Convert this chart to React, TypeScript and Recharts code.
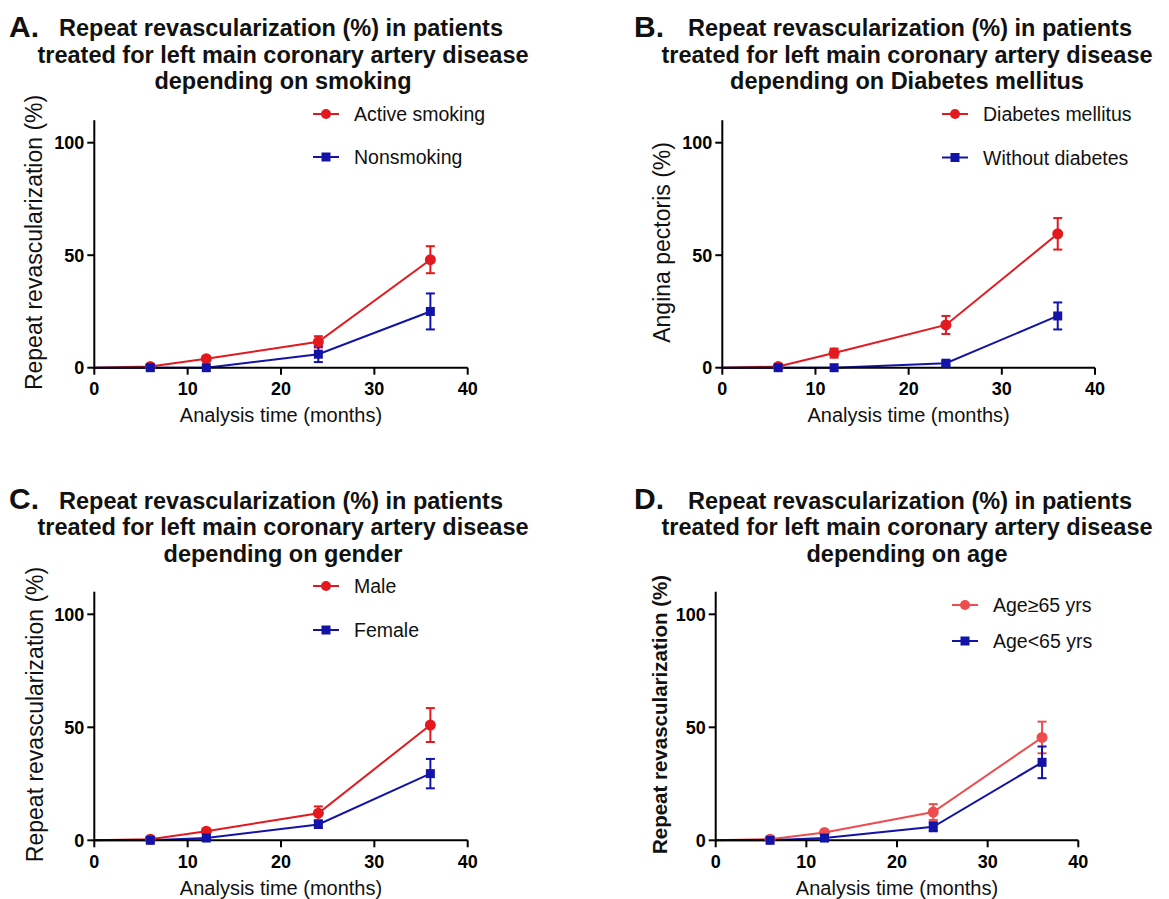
import React from "react";
import { LineChart, Line, XAxis, YAxis, ErrorBar, Legend, Label } from "recharts";

// months of follow-up (x values shared by every panel)
const months = [0, 6, 12, 24, 36];

// A. smoking
const smokingActive = [0, 0.5, 4, 11.5, 48];
const smokingActiveErr = [0, 0.5, 1, 2.5, 6];
const smokingNon = [0, 0, 0, 6, 25];
const smokingNonErr = [0, 0, 0, 3.5, 8];

// B. diabetes
const diabetesYes = [0, 0.5, 6.5, 19, 59.5];
const diabetesYesErr = [0, 0.5, 2, 4, 7];
const diabetesNo = [0, 0, 0, 2, 23];
const diabetesNoErr = [0, 0, 0, 1, 6];

// C. gender
const male = [0, 0.5, 4, 12, 51];
const maleErr = [0, 0.5, 1, 3, 7.5];
const female = [0, 0, 1, 7, 29.5];
const femaleErr = [0, 0, 0.5, 1.5, 6.5];

// D. age
const ageOld = [0, 0.5, 3.5, 12.5, 45.5];
const ageOldErr = [0, 0.5, 1, 3.5, 7];
const ageYoung = [0, 0, 1, 6, 34.5];
const ageYoungErr = [0, 0, 0.5, 2, 7];

const xTicks = [0, 10, 20, 30, 40];
const yTicks = [0, 50, 100];

const titleLines = [
  "Repeat revascularization (%) in patients",
  "treated for left main coronary artery disease",
];

const RED = "#e3191f";
const RED_LIGHT = "#ee4c4e";
const BLUE = "#1313a8";
const FONT = "'Liberation Sans', Arial, Helvetica, sans-serif";

const buildRows = (a: number[], aErr: number[], b: number[], bErr: number[]) =>
  months.map((m, i) => ({ month: m, a: a[i], aErr: aErr[i], b: b[i], bErr: bErr[i] }));

const makeDot = (shape: string, color: string) => (props: any) => {
  const { cx, cy, payload, index } = props;
  if (cx == null || payload.month === 0) return <g key={`d${index}`} />;
  if (shape === "circle") return <circle key={`d${index}`} cx={cx} cy={cy} r={5.5} fill={color} />;
  return <rect key={`d${index}`} x={cx - 4.5} y={cy - 4.5} width={9} height={9} fill={color} />;
};

const LegendBox = ({ payload, gap }: any) => {
  // keep series order (a, then b) instead of alphabetical
  const items = [...(payload || [])].sort((u: any, v: any) => String(u.dataKey).localeCompare(String(v.dataKey)));
  return (
    <svg width={230} height={gap + 24} style={{ overflow: "visible" }}>
      {items.map((p: any, i: number) => {
        const y = 10 + i * gap;
        return (
          <g key={p.value}>
            <line x1={0} x2={26} y1={y} y2={y} stroke={p.color} strokeWidth={2} />
            {p.type === "circle" ? (
              <circle cx={13} cy={y} r={5} fill={p.color} />
            ) : (
              <rect x={8.5} y={y - 4.5} width={9} height={9} fill={p.color} />
            )}
            <text x={41} y={y} dominantBaseline="central" fontSize={19.5} fontFamily={FONT} fill="#111">
              {p.value}
            </text>
          </g>
        );
      })}
    </svg>
  );
};

interface PanelProps {
  x0: number; y0: number; w: number; h: number;
  pl: number; pr: number; pt: number; pb: number;
  rows: any[];
  nameA: string; nameB: string;
  colorA: string;
  yLabel: string; yLabelBold?: boolean; yLabelSize: number; yLabelDx: number;
  legendX: number; legendY: number; legendGap: number;
}

const XH = 50;

function Panel(p: PanelProps) {
  const margin = { left: 0, top: p.pt - p.y0, right: p.x0 + p.w - p.pr, bottom: p.y0 + p.h - p.pb - XH };
  return (
    <div style={{ position: "absolute", left: p.x0, top: p.y0 }}>
      <LineChart width={p.w} height={p.h} data={p.rows} margin={margin}>
        <XAxis
          dataKey="month"
          type="number"
          domain={[0, 40]}
          ticks={xTicks}
          height={XH}
          axisLine={{ stroke: "#000", strokeWidth: 2 }}
          tickLine={{ stroke: "#000", strokeWidth: 2 }}
          tickSize={7}
          tickMargin={8}
          tick={{ fill: "#000", fontSize: 18, fontWeight: 700, fontFamily: FONT }}
        >
          <Label
            content={(lp: any) => {
              const vb = lp.viewBox;
              return (
                <text x={vb.x + vb.width / 2} y={vb.y + 47.5} textAnchor="middle" dominantBaseline="central" fontSize={20} fontFamily={FONT} fill="#111">
                  Analysis time (months)
                </text>
              );
            }}
          />
        </XAxis>
        <YAxis
          type="number"
          domain={[0, 110]}
          ticks={yTicks}
          width={p.pl - p.x0}
          axisLine={{ stroke: "#000", strokeWidth: 2 }}
          tickLine={{ stroke: "#000", strokeWidth: 2 }}
          tickSize={7}
          tickMargin={3}
          tick={{ fill: "#000", fontSize: 18, fontWeight: 700, fontFamily: FONT }}
        >
          <Label
            content={(lp: any) => {
              const vb = lp.viewBox;
              const cx = vb.x + vb.width - p.yLabelDx;
              const cy = vb.y + vb.height / 2 - 1.5;
              return (
                <text
                  x={cx}
                  y={cy}
                  transform={`rotate(-90 ${cx} ${cy})`}
                  textAnchor="middle"
                  dominantBaseline="central"
                  fontSize={p.yLabelSize}
                  fontWeight={p.yLabelBold ? 700 : 400}
                  fontFamily={FONT}
                  fill="#111"
                >
                  {p.yLabel}
                </text>
              );
            }}
          />
        </YAxis>
        <Legend
          layout="vertical"
          align="center"
          verticalAlign="middle"
          wrapperStyle={{ left: p.legendX - p.x0, top: p.legendY - 10 - p.y0, width: 230 }}
          content={(lp: any) => <LegendBox payload={lp.payload} gap={p.legendGap} />}
        />
        <Line
          dataKey="a"
          name={p.nameA}
          type="linear"
          stroke={p.colorA}
          strokeWidth={2}
          legendType="circle"
          dot={makeDot("circle", p.colorA)}
          activeDot={false}
          isAnimationActive={false}
        >
          <ErrorBar dataKey="aErr" direction="y" width={4.5} stroke={p.colorA} strokeWidth={2} isAnimationActive={false} />
        </Line>
        <Line
          dataKey="b"
          name={p.nameB}
          type="linear"
          stroke={BLUE}
          strokeWidth={2}
          legendType="square"
          dot={makeDot("square", BLUE)}
          activeDot={false}
          isAnimationActive={false}
        >
          <ErrorBar dataKey="bErr" direction="y" width={4.5} stroke={BLUE} strokeWidth={2} isAnimationActive={false} />
        </Line>
      </LineChart>
    </div>
  );
}

function Title({ letter, last, c1, c2, top, lx }: { letter: string; last: string; c1: number; c2: number; top: number; lx: number }) {
  return (
    <g fontFamily={FONT} fontWeight={700} fill="#111">
      <text x={lx} y={top + 0.5} fontSize={30}>{letter}</text>
      <text x={c1} y={top} fontSize={23.5} textAnchor="middle">{titleLines[0]}</text>
      <text x={c2} y={top + 26.5} fontSize={23.5} textAnchor="middle">{titleLines[1]}</text>
      <text x={c2} y={top + 53} fontSize={23.5} textAnchor="middle">{last}</text>
    </g>
  );
}

export default function App() {
  return (
    <div style={{ position: "absolute", left: 0, top: 0, width: 1169, height: 899, background: "#fff", fontFamily: FONT }}>
      <svg width={1169} height={899} style={{ position: "absolute", left: 0, top: 0 }}>
        <Title letter="A." last="depending on smoking" c1={281} c2={283} top={36} lx={9} />
        <Title letter="B." last="depending on Diabetes mellitus" c1={910} c2={907} top={36} lx={634} />
        <Title letter="C." last="depending on gender" c1={281} c2={283} top={508.5} lx={9} />
        <Title letter="D." last="depending on age" c1={910} c2={907} top={508.5} lx={634} />
      </svg>
      <Panel
        x0={0} y0={95} w={560} h={340}
        pl={94.3} pr={467.7} pt={120.2} pb={367.7}
        rows={buildRows(smokingActive, smokingActiveErr, smokingNon, smokingNonErr)}
        nameA="Active smoking" nameB="Nonsmoking" colorA={RED}
        yLabel="Repeat revascularization (%)" yLabelSize={23} yLabelDx={60}
        legendX={313} legendY={114} legendGap={43}
      />
      <Panel
        x0={600} y0={95} w={569} h={340}
        pl={722.3} pr={1095} pt={120.2} pb={367.7}
        rows={buildRows(diabetesYes, diabetesYesErr, diabetesNo, diabetesNoErr)}
        nameA="Diabetes mellitus" nameB="Without diabetes" colorA={RED}
        yLabel="Angina pectoris (%)" yLabelSize={23} yLabelDx={60.5}
        legendX={942} legendY={114} legendGap={43.5}
      />
      <Panel
        x0={0} y0={565} w={560} h={334}
        pl={94.3} pr={467.7} pt={591.7} pb={840.3}
        rows={buildRows(male, maleErr, female, femaleErr)}
        nameA="Male" nameB="Female" colorA={RED}
        yLabel="Repeat revascularization (%)" yLabelSize={23} yLabelDx={59.5}
        legendX={313} legendY={586} legendGap={44}
      />
      <Panel
        x0={600} y0={565} w={569} h={334}
        pl={715.7} pr={1078.3} pt={591.7} pb={840.3}
        rows={buildRows(ageOld, ageOldErr, ageYoung, ageYoungErr)}
        nameA="Age≥65 yrs" nameB="Age<65 yrs" colorA={RED_LIGHT}
        yLabel="Repeat revascularization (%)" yLabelBold yLabelSize={20.5} yLabelDx={56}
        legendX={952} legendY={605} legendGap={36}
      />
    </div>
  );
}
